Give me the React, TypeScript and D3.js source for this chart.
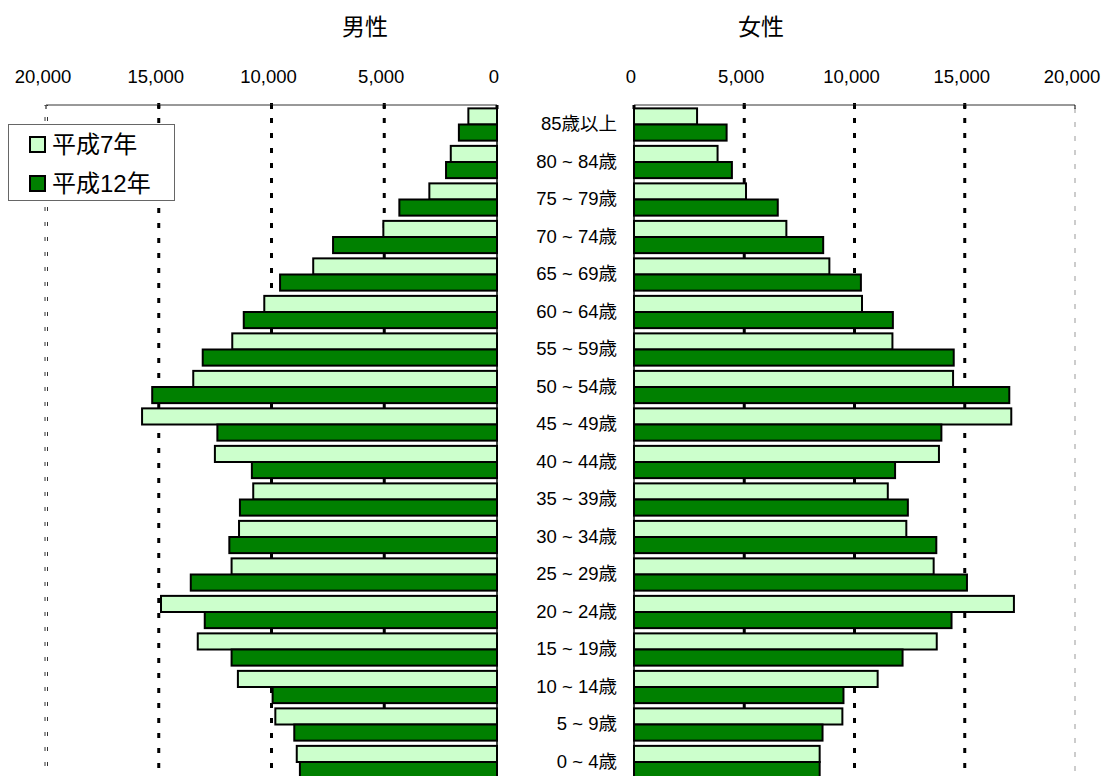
import React from "react";
import * as d3 from "d3";

const categories = [
  "85歳以上", "80 ~ 84歳", "75 ~ 79歳", "70 ~ 74歳", "65 ~ 69歳", "60 ~ 64歳",
  "55 ~ 59歳", "50 ~ 54歳", "45 ~ 49歳", "40 ~ 44歳", "35 ~ 39歳", "30 ~ 34歳",
  "25 ~ 29歳", "20 ~ 24歳", "15 ~ 19歳", "10 ~ 14歳", "5 ~ 9歳", "0 ~ 4歳",
];
const seriesNames = ["平成7年", "平成12年"];
const maleH7 = [1270, 2050, 3000, 5040, 8150, 10320, 11740, 13470, 15740, 12510, 10810, 11440, 11770, 14900, 13270, 11490, 9830, 8880];
const maleH12 = [1690, 2260, 4330, 7270, 9620, 11230, 13050, 15290, 12400, 10870, 11400, 11870, 13580, 12960, 11770, 9950, 8990, 8740];
const femaleH7 = [2860, 3790, 5080, 6910, 8860, 10340, 11720, 14470, 17110, 13830, 11510, 12350, 13590, 17230, 13730, 11050, 9450, 8420];
const femaleH12 = [4200, 4440, 6520, 8580, 10290, 11740, 14500, 17020, 13940, 11840, 12420, 13710, 15100, 14400, 12180, 9500, 8550, 8420];
const tickValues = [0, 5000, 10000, 15000, 20000];
const panelTitles = ["男性", "女性"];

const colors = ["#CCFFCC", "#008000"];

export default function App() {
  const W = 1106, H = 776;
  const top = 105;
  const xL = d3.scaleLinear().domain([0, 20000]).range([497, 46]);
  const xR = d3.scaleLinear().domain([0, 20000]).range([634, 1075]);
  const step = 37.5;
  const y = d3.scaleBand<string>().domain(categories)
    .range([top, top + step * (categories.length - 0.14 + 0.18)])
    .paddingInner(0.14).paddingOuter(0.09);
  const bw = y.bandwidth();
  const half = bw / 2;
  const fmt = d3.format(",");
  const cjk = "'Noto Sans CJK JP', 'Noto Sans', sans-serif";
  const arial = "'Liberation Sans', Arial, sans-serif";
  const mixed = "'Liberation Sans', Arial, 'Noto Sans CJK JP', sans-serif";

  const gridDot = (x: number, key: string) => (
    <line key={key} x1={x} x2={x} y1={top - 2} y2={H} stroke="#000" strokeWidth={3} strokeDasharray="5 10" />
  );

  const bars = (vals: number[], side: "L" | "R", si: number) =>
    vals.map((v, i) => {
      const yy = (y(categories[i]) as number) + si * half;
      if (side === "L") {
        const x0 = xL(v);
        return <rect key={`${side}${si}${i}`} x={x0} y={yy} width={xL(0) - x0} height={half}
          fill={colors[si]} stroke="#000" strokeWidth={2} />;
      }
      return <rect key={`${side}${si}${i}`} x={xR(0)} y={yy} width={xR(v) - xR(0)} height={half}
        fill={colors[si]} stroke="#000" strokeWidth={2} />;
    });

  return (
    <svg width={W} height={H} style={{ position: "absolute", left: 0, top: 0, background: "#fff" }}>
      <rect x={0} y={0} width={W} height={H} fill="#fff" />
      {/* titles */}
      <text x={365} y={25} textAnchor="middle" dominantBaseline="central" fontFamily={cjk} fontSize={23} fill="#000">{panelTitles[0]}</text>
      <text x={761} y={25} textAnchor="middle" dominantBaseline="central" fontFamily={cjk} fontSize={23} fill="#000">{panelTitles[1]}</text>
      {/* tick labels */}
      {tickValues.map((t) => (
        <text key={"tl" + t} x={xL(t) - 3} y={83} textAnchor="middle" fontFamily={arial} fontSize={18.5} fill="#000">{fmt(t)}</text>
      ))}
      {tickValues.map((t) => (
        <text key={"tr" + t} x={xR(t) - 3} y={83} textAnchor="middle" fontFamily={arial} fontSize={18.5} fill="#000">{fmt(t)}</text>
      ))}
      {/* grid lines */}
      {tickValues.filter((t) => t > 0 && t < 20000).map((t) => gridDot(xL(t), "gl" + t))}
      {tickValues.filter((t) => t > 0 && t < 20000).map((t) => gridDot(xR(t), "gr" + t))}
      <line x1={xL(20000) - 1} x2={xL(20000) - 1} y1={top} y2={H} stroke="#333" strokeWidth={1} strokeDasharray="4 11" strokeDashoffset={-12} />
      <line x1={xL(20000) + 1.5} x2={xL(20000) + 1.5} y1={top} y2={H} stroke="#333" strokeWidth={1} strokeDasharray="4 11" strokeDashoffset={-12} />
      <line x1={xR(20000)} x2={xR(20000)} y1={top} y2={H} stroke="#999" strokeWidth={1} strokeDasharray="5 9" strokeDashoffset={-3} />
      {/* top borders with ticks */}
      <line x1={xL(20000)} x2={xL(0)} y1={top} y2={top} stroke="#333" strokeWidth={1} />
      <line x1={xR(0)} x2={xR(20000)} y1={top} y2={top} stroke="#333" strokeWidth={1} />
      {tickValues.map((t) => (
        <line key={"tkl" + t} x1={xL(t)} x2={xL(t)} y1={top} y2={top + 4} stroke="#000" strokeWidth={t === 20000 ? 1 : 3} />
      ))}
      {tickValues.map((t) => (
        <line key={"tkr" + t} x1={xR(t)} x2={xR(t)} y1={top} y2={top + 4} stroke="#000" strokeWidth={t === 20000 ? 1 : 3} />
      ))}
      {/* bars */}
      {bars(maleH7, "L", 0)}
      {bars(maleH12, "L", 1)}
      {bars(femaleH7, "R", 0)}
      {bars(femaleH12, "R", 1)}
      {/* zero axes */}
      <line x1={xL(0)} x2={xL(0)} y1={top} y2={H} stroke="#000" strokeWidth={1.5} />
      <line x1={xR(0)} x2={xR(0)} y1={top} y2={H} stroke="#000" strokeWidth={1.5} />
      {/* category labels */}
      {categories.map((c) => (
        <text key={c} x={617} y={(y(c) as number) + bw / 2 - 1} textAnchor="end" dominantBaseline="central"
          fontFamily={mixed} fontSize={18.5} fill="#000">{c}</text>
      ))}
      {/* legend */}
      <rect x={8.5} y={124.5} width={166} height={76} fill="#fff" stroke="#666" strokeWidth={1} />
      {seriesNames.map((s, i) => (
        <g key={s}>
          <rect x={30} y={137 + i * 39} width={15} height={15} fill={colors[i]} stroke="#000" strokeWidth={2} />
          <text x={52} y={144 + i * 39} dominantBaseline="central" fontFamily={mixed} fontSize={24} fill="#000">{s}</text>
        </g>
      ))}
    </svg>
  );
}
